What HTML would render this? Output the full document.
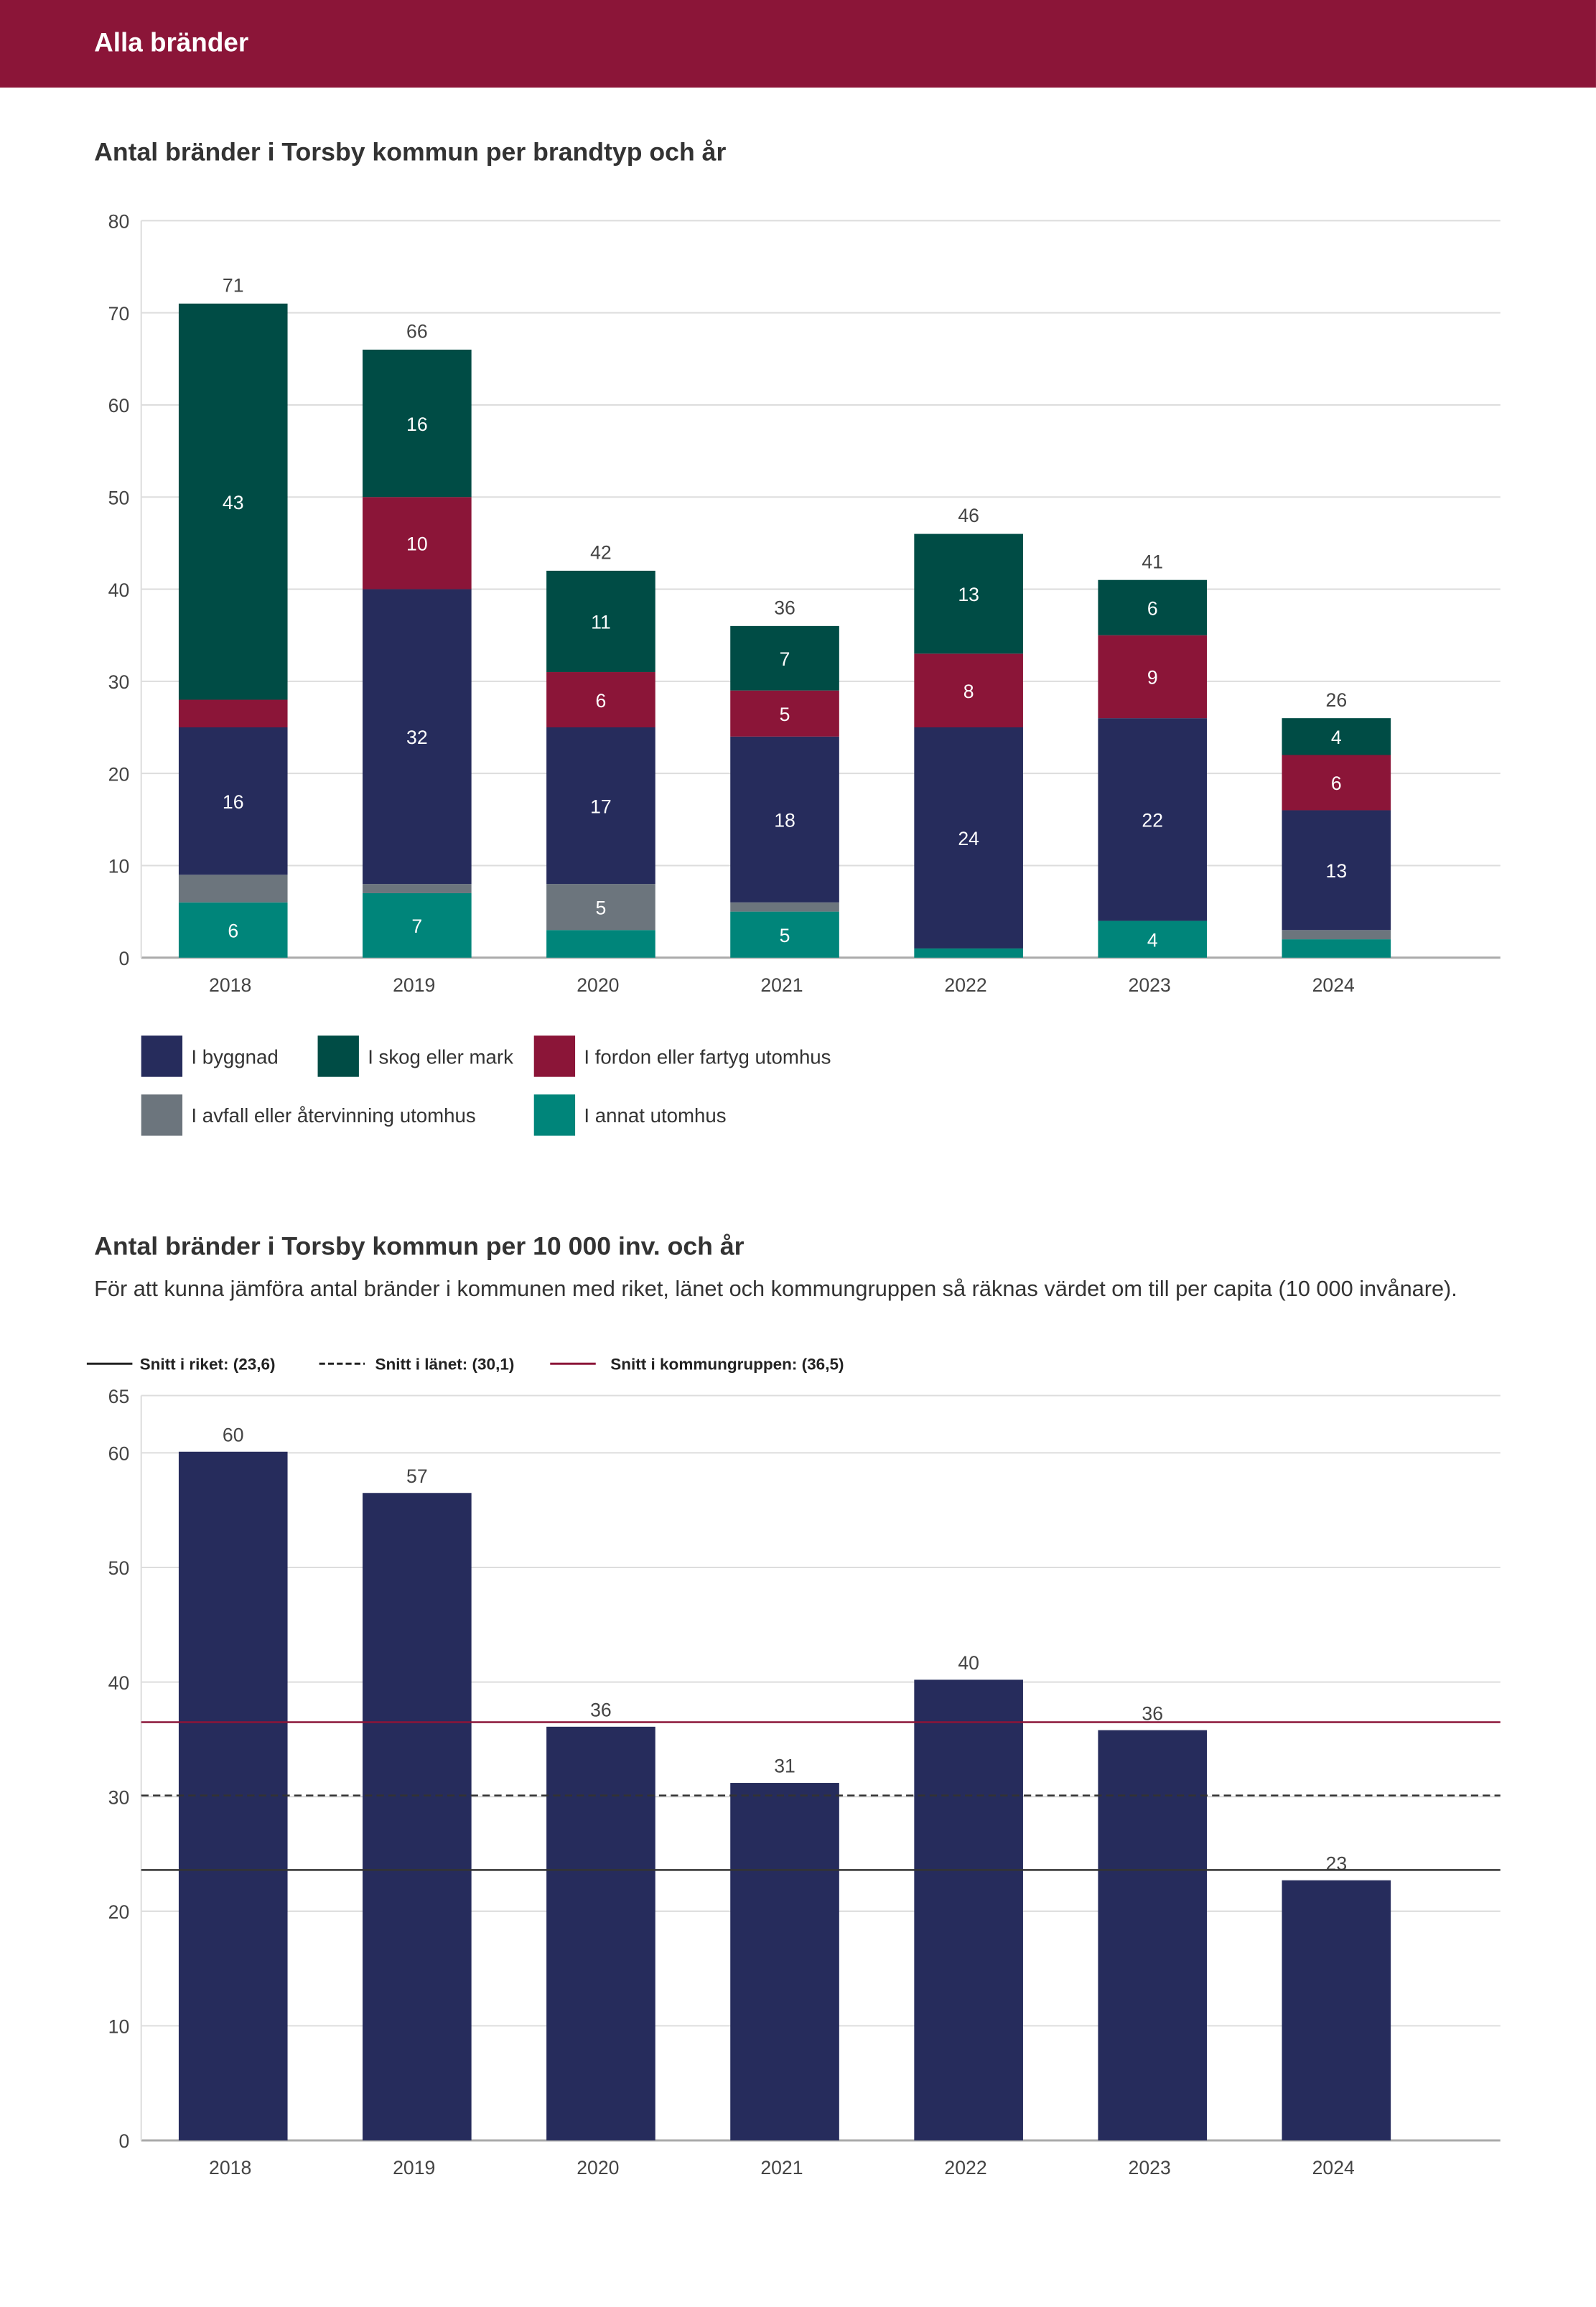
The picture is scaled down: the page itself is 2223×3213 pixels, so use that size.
<!DOCTYPE html>
<html><head><meta charset="utf-8"><style>
html,body{margin:0;padding:0;background:#fff;}
svg{display:block;font-family:"Liberation Sans",sans-serif;}
</style></head><body>
<svg id="root" width="2223" height="3213" viewBox="0 0 2223 3213">
<g id="g" transform="scale(2.0488)">
<rect x="0" y="0" width="1085" height="59.5" fill="#8b1538"/>
<text x="64" y="35" font-size="18" font-weight="bold" fill="#fff">Alla bränder</text>
<text x="64" y="109" font-size="17.4" font-weight="bold" fill="#333">Antal bränder i Torsby kommun per brandtyp och år</text>
<g id="c1"></g>
<g>
<rect x="96" y="704" width="28" height="28" fill="#262c5c"/>
<text x="130" y="723" font-size="13.5" fill="#333">I byggnad</text>
<rect x="216" y="704" width="28" height="28" fill="#004c45"/>
<text x="250" y="723" font-size="13.5" fill="#333">I skog eller mark</text>
<rect x="363" y="704" width="28" height="28" fill="#8b1538"/>
<text x="397" y="723" font-size="13.5" fill="#333">I fordon eller fartyg utomhus</text>
<rect x="96" y="744" width="28" height="28" fill="#6c757d"/>
<text x="130" y="763" font-size="13.5" fill="#333">I avfall eller återvinning utomhus</text>
<rect x="363" y="744" width="28" height="28" fill="#00857a"/>
<text x="397" y="763" font-size="13.5" fill="#333">I annat utomhus</text>
</g>
<text x="64" y="853" font-size="17.4" font-weight="bold" fill="#333">Antal bränder i Torsby kommun per 10 000 inv. och år</text>
<text x="64" y="881" font-size="15" fill="#333">För att kunna jämföra antal bränder i kommunen med riket, länet och kommungruppen så räknas värdet om till per capita (10 000 invånare).</text>
<g>
<line x1="59" y1="927" x2="90" y2="927" stroke="#222" stroke-width="1.5"/>
<text x="95" y="931" font-size="11" font-weight="bold" fill="#222">Snitt i riket: (23,6)</text>
<line x1="217" y1="927" x2="248" y2="927" stroke="#222" stroke-width="1.5" stroke-dasharray="4,2"/>
<text x="255" y="931" font-size="11" font-weight="bold" fill="#222">Snitt i länet: (30,1)</text>
<line x1="374" y1="927" x2="405" y2="927" stroke="#8b1538" stroke-width="1.5"/>
<text x="415" y="931" font-size="11" font-weight="bold" fill="#222">Snitt i kommungruppen: (36,5)</text>
</g>
<g id="c2"></g>
</g>
</svg>
<script>
const years = ["2018","2019","2020","2021","2022","2023","2024"];
const annat = [6,7,3,5,1,4,2];
const avfall = [3,1,5,1,0,0,1];
const byggnad = [16,32,17,18,24,22,13];
const fordon = [3,10,6,5,8,9,6];
const skog = [43,16,11,7,13,6,4];
const ticks1 = [0,10,20,30,40,50,60,70,80];
const perCapita = [60.1,56.5,36.1,31.2,40.2,35.8,22.7];
const ticks2 = [0,10,20,30,40,50,60,65];
const avgRiket = [23.6];
const avgLanet = [30.1];
const avgGrupp = [36.5];

const NS="http://www.w3.org/2000/svg";
function mk(parent,tag,attrs,txt){const e=document.createElementNS(NS,tag);for(const k in attrs)e.setAttribute(k,attrs[k]);if(txt!==undefined)e.textContent=txt;parent.appendChild(e);return e;}
const L=96,R=1020,band=125,bw=74;
function xc(i){return L+band*(i+0.5);}

// chart 1
(function(){
const g=document.getElementById('c1');
const y0=651,yTop=150,max=80;
const y=v=>y0-(v/max)*(y0-yTop);
ticks1.forEach(t=>{
  const ln=mk(g,'line',{x1:L,x2:R,y1:y(t),y2:y(t),stroke:t===0?'#aaa':'#ddd','stroke-width':t===0?1.5:1});
  
  
  const tx=mk(g,'text',{x:88,y:y(t)+5,'font-size':13,fill:'#444','text-anchor':'end'},t);
  
  
});
const ax=mk(g,'line',{x1:L,x2:L,y1:yTop,y2:y0,stroke:'#ddd'});


const series=[[annat,'#00857a','annat'],[avfall,'#6c757d','avfall'],[byggnad,'#262c5c','byggnad'],[fordon,'#8b1538','fordon'],[skog,'#004c45','skog']];
years.forEach((yr,i)=>{
  let acc=0;const cx=xc(i);
  series.forEach(([arr,col,nm])=>{
    const v=arr[i];if(v<=0)return;
    const r=mk(g,'rect',{x:cx-bw/2,y:y(acc+v),width:bw,height:y(acc)-y(acc+v),fill:col});
    
    
    if(v>=4){
      const t=mk(g,'text',{x:cx,y:(y(acc)+y(acc+v))/2+5,'font-size':13,fill:'#fff','text-anchor':'middle'},v);
      
      
    }
    acc+=v;
  });
  const tl=mk(g,'text',{x:cx,y:y(acc)-8,'font-size':13,fill:'#444','text-anchor':'middle'},acc);
  
  
  const xl=mk(g,'text',{x:cx-2,y:674,'font-size':13,fill:'#444','text-anchor':'middle'},yr);
  
  
});
})();

// chart 2
(function(){
const g=document.getElementById('c2');
const y0=1455,per10=77.9;
const y=v=>y0-v*per10/10;
ticks2.forEach(t=>{
  const ln=mk(g,'line',{x1:L,x2:R,y1:y(t),y2:y(t),stroke:t===0?'#aaa':'#ddd','stroke-width':t===0?1.5:1});
  
  
  const tx=mk(g,'text',{x:88,y:y(t)+5,'font-size':13,fill:'#444','text-anchor':'end'},t);
  
  
});
const ax=mk(g,'line',{x1:L,x2:L,y1:y(65),y2:y0,stroke:'#ddd'});


years.forEach((yr,i)=>{
  const cx=xc(i),v=perCapita[i];
  const r=mk(g,'rect',{x:cx-bw/2,y:y(v),width:bw,height:y0-y(v),fill:'#262c5c'});
  
  
  const t=mk(g,'text',{x:cx,y:y(v)-7,'font-size':13,fill:'#444','text-anchor':'middle'},Math.round(v));
  
  
  const xl=mk(g,'text',{x:cx-2,y:1478,'font-size':13,fill:'#444','text-anchor':'middle'},yr);
  
  
});
const l1=mk(g,'line',{x1:L,x2:R,y1:y(avgRiket[0]),y2:y(avgRiket[0]),stroke:'#333','stroke-width':1.2});


const l2=mk(g,'line',{x1:L,x2:R,y1:y(avgLanet[0]),y2:y(avgLanet[0]),stroke:'#333','stroke-width':1.2,'stroke-dasharray':'5,3'});


const l3=mk(g,'line',{x1:L,x2:R,y1:y(avgGrupp[0]),y2:y(avgGrupp[0]),stroke:'#8b1538','stroke-width':1.2});


})();
</script>
</body></html>
